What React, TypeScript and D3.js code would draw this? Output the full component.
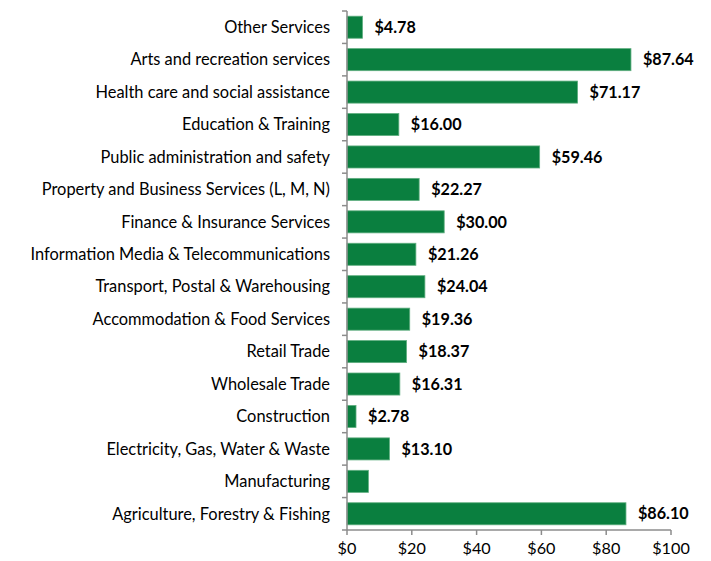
import React, { useEffect, useRef } from 'react';
import * as d3 from 'd3';

const categories = [
  'Other Services',
  'Arts and recreation services',
  'Health care and social assistance',
  'Education & Training',
  'Public administration and safety',
  'Property and Business Services (L, M, N)',
  'Finance & Insurance Services',
  'Information Media & Telecommunications',
  'Transport, Postal & Warehousing',
  'Accommodation & Food Services',
  'Retail Trade',
  'Wholesale Trade',
  'Construction',
  'Electricity, Gas, Water & Waste',
  'Manufacturing',
  'Agriculture, Forestry & Fishing',
];

const values = [4.78, 87.64, 71.17, 16.0, 59.46, 22.27, 30.0, 21.26, 24.04, 19.36, 18.37, 16.31, 2.78, 13.1, 6.6, 86.1];

// Manufacturing has no data label in the source
const showLabel = [true, true, true, true, true, true, true, true, true, true, true, true, true, true, false, true];

const xTicks = [0, 20, 40, 60, 80, 100];

export default function App() {
  const ref = useRef<SVGSVGElement>(null);

  useEffect(() => {
    if (!ref.current) return;
    const svg = d3.select(ref.current);
    svg.selectAll('*').remove();

    const W = 711;
    const H = 561;
    const left = 347;
    const right = 671;
    const top = 11;
    const bottom = 530;
    const font = 'Lato, "Open Sans", sans-serif';
    const axisColor = '#8c8c8c';

    const x = d3.scaleLinear().domain([0, 100]).range([left, right]);
    const y = d3.scaleBand<string>().domain(categories).range([top, bottom]).paddingInner(0.32).paddingOuter(0.16);
    const step = y.step();

    svg.attr('width', W).attr('height', H);

    // bars
    svg.selectAll('.bar')
      .data(categories)
      .join('rect')
      .attr('class', 'bar')
      .attr('x', x(0))
      .attr('y', d => y(d)!)
      .attr('width', (_, i) => x(values[i]) - x(0))
      .attr('height', y.bandwidth())
      .attr('fill', '#0a7f3f')
      .attr('stroke', '#5fae7f')
      .attr('stroke-width', 0.8);

    // value labels
    svg.selectAll('.val')
      .data(categories.filter((_, i) => showLabel[i]))
      .join('text')
      .attr('class', 'val')
      .attr('x', d => x(values[categories.indexOf(d)]) + 12)
      .attr('y', d => y(d)! + y.bandwidth() / 2)
      .attr('dy', '0.35em')
      .attr('font-family', font)
      .attr('font-weight', 'bold')
      .attr('font-size', 16.2)
      .attr('fill', '#000')
      .text(d => '$' + values[categories.indexOf(d)].toFixed(2));

    // y axis
    const yAxis = svg.append('g');
    yAxis.append('line')
      .attr('x1', left).attr('x2', left)
      .attr('y1', top).attr('y2', bottom)
      .attr('stroke', axisColor).attr('stroke-width', 1.5);
    const bounds = d3.range(categories.length + 1).map(i => top + i * step);
    yAxis.selectAll('.ytick')
      .data(bounds)
      .join('line')
      .attr('class', 'ytick')
      .attr('x1', left - 5).attr('x2', left)
      .attr('y1', d => d).attr('y2', d => d)
      .attr('stroke', axisColor).attr('stroke-width', 1.5);
    yAxis.selectAll('.ylab')
      .data(categories)
      .join('text')
      .attr('class', 'ylab')
      .attr('x', left - 17)
      .attr('y', d => y(d)! + y.bandwidth() / 2)
      .attr('dy', '0.35em')
      .attr('text-anchor', 'end')
      .attr('font-family', font)
      .attr('font-size', 16.4)
      .attr('fill', '#000')
      .text(d => d);

    // x axis
    const xAxis = svg.append('g');
    xAxis.append('line')
      .attr('x1', left).attr('x2', right)
      .attr('y1', bottom).attr('y2', bottom)
      .attr('stroke', axisColor).attr('stroke-width', 1.5);
    xAxis.selectAll('.xtick')
      .data(xTicks)
      .join('line')
      .attr('class', 'xtick')
      .attr('x1', d => x(d)).attr('x2', d => x(d))
      .attr('y1', bottom).attr('y2', bottom + 5)
      .attr('stroke', axisColor).attr('stroke-width', 1.5);
    xAxis.selectAll('.xlab')
      .data(xTicks)
      .join('text')
      .attr('class', 'xlab')
      .attr('x', d => x(d))
      .attr('y', bottom + 24)
      .attr('text-anchor', 'middle')
      .attr('font-family', font)
      .attr('font-size', 16.2)
      .attr('fill', '#000')
      .text(d => '$' + d);
  }, []);

  return (
    <div style={{ position: 'absolute', left: 0, top: 0, background: '#fff' }}>
      <svg ref={ref} style={{ display: 'block' }} />
    </div>
  );
}
